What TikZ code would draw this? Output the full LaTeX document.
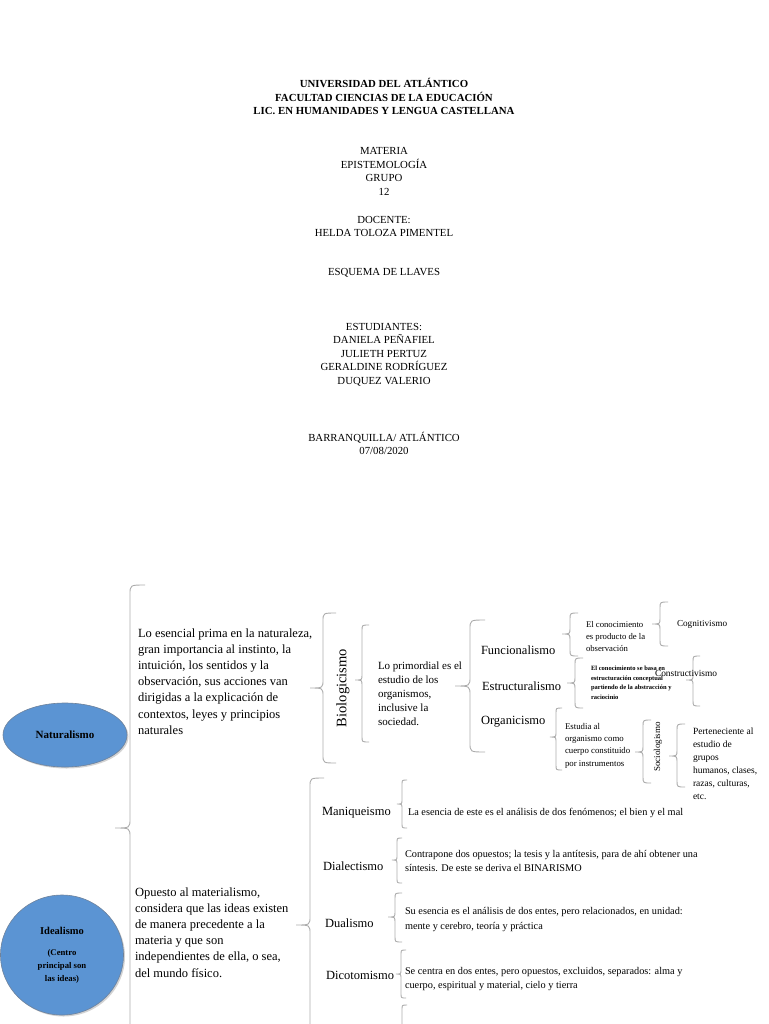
\documentclass[tikz,border=0pt]{standalone}
\usepackage{fontspec}
\setmainfont{Liberation Serif}
\usetikzlibrary{shapes.geometric,shadows}
\definecolor{azul}{RGB}{91,148,211}
\definecolor{borde}{RGB}{110,130,155}
\tikzset{llave/.style={draw=gray!65,line width=0.9pt}}
\newcommand{\llave}[5]{%
  \draw[llave] (#1+#5,#2) .. controls (#1,#2) .. (#1,#2+#5/2+2)
    -- (#1,#3-#5/2-2) .. controls (#1,#3) .. (#1-#5,#3)
    .. controls (#1,#3) .. (#1,#3+#5/2+2)
    -- (#1,#4-#5/2-2) .. controls (#1,#4) .. (#1+#5,#4);}
\begin{document}
\begin{tikzpicture}[x=1pt,y=-1pt,every node/.style={inner sep=0pt,outer sep=0pt},
  texto/.style={anchor=north west,align=left},
  etiq/.style={anchor=west,font=\fontsize{12.5}{15}\selectfont},
  titulo/.style={align=center,font=\fontsize{10.8}{13.6}\selectfont},
  bola/.style={ellipse,fill=azul,draw=borde,line width=0.6pt,drop shadow={opacity=0.35,shadow xshift=1.5pt,shadow yshift=-1.5pt}}]
  \useasboundingbox (0,0) rectangle (768,1024);
  \clip (0,0) rectangle (768,1024);
  \node[titulo,font=\fontsize{10.8}{13.6}\selectfont\bfseries] (tit) at (384,96.5) {UNIVERSIDAD DEL ATLÁNTICO\\FACULTAD CIENCIAS DE LA EDUCACIÓN\\LIC. EN HUMANIDADES Y LENGUA CASTELLANA};
  \node[titulo] (mat) at (384,171.5) {MATERIA\\EPISTEMOLOGÍA\\GRUPO\\12};
  \node[titulo] (doc) at (384,226.5) {DOCENTE:\\HELDA TOLOZA PIMENTEL};
  \node[titulo] (esq) at (384,273) {ESQUEMA DE LLAVES};
  \node[titulo] (est) at (384,354.5) {ESTUDIANTES:\\DANIELA PEÑAFIEL\\JULIETH PERTUZ\\GERALDINE RODRÍGUEZ\\DUQUEZ VALERIO};
  \node[titulo] (lug) at (384,443.5) {BARRANQUILLA/ ATLÁNTICO\\07/08/2020};
  \node[bola,minimum width=124,minimum height=64,font=\fontsize{11}{13}\selectfont\bfseries] (nat) at (65,735) {Naturalismo};
  \node[bola,minimum width=123,minimum height=120,align=center,font=\fontsize{8.7}{13}\selectfont\bfseries] (ide) at (62,955) {{\fontsize{10.5}{12}\selectfont Idealismo}\\[8pt](Centro\\principal son\\las ideas)};
  \llave{130}{585}{828}{1071}{15}
  \node[texto,font=\fontsize{12.5}{16.2}\selectfont] (natx) at (138,628.5) {Lo esencial prima en la naturaleza,\\gran importancia al instinto, la\\intuición, los sentidos y la\\observación, sus acciones van\\dirigidas a la explicación de\\contextos, leyes y principios\\naturales};
  \llave{323}{613}{688}{763}{13}
  \node[rotate=90,font=\fontsize{14.5}{16}\selectfont] (bio) at (343,688) {Biologicismo};
  \llave{362}{625}{680}{742}{7}
  \node[texto,font=\fontsize{11}{14}\selectfont] (biox) at (378,662) {Lo primordial es el\\estudio de los\\organismos,\\inclusive la\\sociedad.};
  \llave{470}{620}{686}{752}{15}
  \node[etiq] (fun) at (481,650) {Funcionalismo};
  \node[etiq] (estr) at (482,686) {Estructuralismo};
  \node[etiq] (org) at (481,722) {Organicismo};
  \llave{570}{613}{634}{656}{8}
  \node[texto,font=\fontsize{8.7}{12}\selectfont] (funx) at (586,621) {El conocimiento\\es producto de la\\observación};
  \llave{660}{602}{624}{646}{8}
  \node[etiq,font=\fontsize{9.2}{11}\selectfont] (cog) at (677,624) {Cognitivismo};
  \llave{575}{658}{683}{708}{8}
  \node[texto,font=\fontsize{6.5}{9.5}\selectfont\bfseries] (estrx) at (591,666) {El conocimiento se basa en\\estructuración conceptual\\partiendo de la abstracción y\\raciocinio};
  \llave{693}{656}{680}{706}{7}
  \node[etiq,font=\fontsize{9.4}{11}\selectfont] (cons) at (655,673) {Constructivismo};
  \llave{556}{708}{737}{770}{6}
  \node[texto,font=\fontsize{8.8}{12.3}\selectfont] (orgx) at (565,723) {Estudia al\\organismo como\\cuerpo constituido\\por instrumentos};
  \llave{643}{720}{752}{783}{8}
  \node[rotate=90,font=\fontsize{9}{11}\selectfont] (soc) at (658,747) {Sociologismo};
  \llave{677}{724}{756}{787}{8}
  \node[texto,font=\fontsize{9.5}{13}\selectfont] (socx) at (693,728) {Perteneciente al\\estudio de\\grupos\\humanos, clases,\\razas, culturas,\\etc.};
  \node[texto,font=\fontsize{12.5}{16.2}\selectfont] (idex) at (135,887.5) {Opuesto al materialismo,\\considera que las ideas existen\\de manera precedente a la\\materia y que son\\independientes de ella, o sea,\\del mundo físico.};
  \llave{310}{778}{925}{1072}{14}
  \node[etiq] (man) at (322,813) {Maniqueismo};
  \llave{402}{780}{804}{828}{5}
  \node[etiq,font=\fontsize{10.3}{14}\selectfont] (manx) at (408,813) {La esencia de este es el análisis de dos fenómenos; el bien y el mal};
  \node[etiq] (dia) at (323,866) {Dialectismo};
  \llave{397}{838}{860}{883}{5}
  \node[texto,font=\fontsize{10.3}{14}\selectfont] (diax) at (405,850.5) {Contrapone dos opuestos; la tesis y la antítesis, para de ahí obtener una\\síntesis. De este se deriva el BINARISMO};
  \node[etiq] (dua) at (325,923) {Dualismo};
  \llave{395}{893}{917}{942}{7}
  \node[texto,font=\fontsize{10.3}{15}\selectfont] (duax) at (405,907.5) {Su esencia es el análisis de dos entes, pero relacionados, en unidad:\\mente y cerebro, teoría y práctica};
  \node[etiq] (dic) at (326,975) {Dicotomismo};
  \llave{401}{950}{974}{998}{5}
  \node[texto,font=\fontsize{10.3}{14}\selectfont] (dicx) at (405,967.5) {Se centra en dos entes, pero opuestos, excluidos, separados: alma y\\cuerpo, espiritual y material, cielo y tierra};
  \llave{402}{1005}{1030}{1055}{5}
\end{tikzpicture}
\end{document}
